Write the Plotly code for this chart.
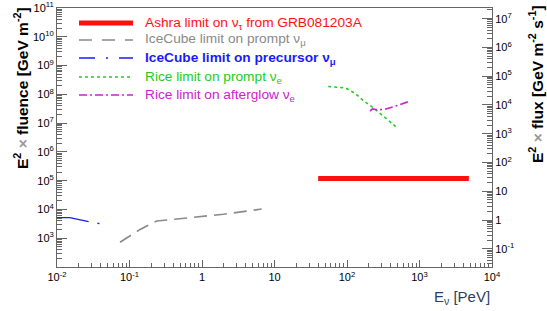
import plotly.graph_objects as go

# ---- data ----
ashra_E = [40, 4800]
ashra_F = [1.2e5, 1.2e5]

icp_E = [0.074, 0.14, 0.237, 0.68, 1.97, 6.65]
icp_F = [724, 2.02e3, 3.96e3, 5.2e3, 6.8e3, 1.03e4]

icpre_E = [0.01, 0.015, 0.0285, 0.039]
icpre_F = [5.2e3, 5.2e3, 3.7e3, 3.2e3]

rice_p_E = [55, 96, 129, 173, 231, 301, 404, 470]
rice_p_F = [1.87e8, 1.66e8, 1.08e8, 5.7e7, 3.4e7, 2.0e7, 1.05e7, 7.6e6]

rice_a_E = [207, 225, 260, 330, 450, 740]
rice_a_F = [2.6e7, 3.1e7, 2.9e7, 3.0e7, 3.8e7, 5.8e7]

x_tickvals = [1e-2, 1e-1, 1, 10, 1e2, 1e3, 1e4]
x_ticktext = ["10<sup>-2</sup>", "10<sup>-1</sup>", "1", "10", "10<sup>2</sup>", "10<sup>3</sup>", "10<sup>4</sup>"]
yl_tickvals = [1e3, 1e4, 1e5, 1e6, 1e7, 1e8, 1e9, 1e10, 1e11]
yl_ticktext = ["10<sup>%d</sup>" % k for k in range(3, 12)]
yr_tickvals = [1e-1, 1, 10, 1e2, 1e3, 1e4, 1e5, 1e6, 1e7]
yr_ticktext = ["10<sup>-1</sup>", "1", "10", "10<sup>2</sup>", "10<sup>3</sup>",
               "10<sup>4</sup>", "10<sup>5</sup>", "10<sup>6</sup>", "10<sup>7</sup>"]

legend_labels = [
    "Ashra limit on ν<sub>τ</sub> from GRB081203A",
    "IceCube limit on prompt ν<sub>μ</sub>",
    "<b>IceCube limit on precursor ν<sub>μ</sub></b>",
    "Rice limit on prompt ν<sub>e</sub>",
    "Rice limit on afterglow ν<sub>e</sub>",
]

# ---- styles ----
RED = "#ff1010"
GREY = "#8a8a8a"
BLUE = "#1a1aff"
GREEN = "#22cc22"
MAG = "#cc22cc"
styles = [
    dict(color=RED, width=5, dash="solid"),
    dict(color=GREY, width=1.6, dash="13px,7px"),
    dict(color=BLUE, width=1.4, dash="32px,9px,2px,9px"),
    dict(color=GREEN, width=1.6, dash="3px,3px"),
    dict(color=MAG, width=1.6, dash="8px,3px,2px,3px"),
]
legend_styles = [
    dict(color=RED, width=5, dash="solid"),
    dict(color=GREY, width=1.6, dash="13px,10px"),
    dict(color=BLUE, width=1.4, dash="16px,11px,2px,11px"),
    dict(color=GREEN, width=1.6, dash="3px,3px"),
    dict(color=MAG, width=1.6, dash="8px,3px,2px,3px"),
]

W, H = 547, 311
ML, MR, MT, MB = 57, 55, 8, 44
PH = H - MT - MB
PW = W - ML - MR

fig = go.Figure()
series = [(ashra_E, ashra_F), (icp_E, icp_F), (icpre_E, icpre_F),
          (rice_p_E, rice_p_F), (rice_a_E, rice_a_F)]
for (xe, yf), st in zip(series, styles):
    fig.add_trace(go.Scatter(x=xe, y=yf, mode="lines", line=st,
                             showlegend=False, hoverinfo="skip"))

# invisible trace to attach right axis
fig.add_trace(go.Scatter(x=[1], y=[1], yaxis="y2", mode="markers",
                         marker=dict(opacity=0), showlegend=False, hoverinfo="skip"))

# manual legend
leg_rows_px = [23, 40, 58, 77, 95]
shapes = []
annotations = []
for py, lab, st in zip(leg_rows_px, legend_labels, legend_styles):
    yp = 1 - (py - MT) / PH
    x0 = (79 - ML) / PW
    x1 = (133 - ML) / PW
    shapes.append(dict(type="line", xref="paper", yref="paper", x0=x0, x1=x1,
                       y0=yp, y1=yp, line=st))
    annotations.append(dict(xref="paper", yref="paper", x=(143 - ML) / PW, y=yp,
                            text=lab, showarrow=False, xanchor="left", yanchor="middle",
                            font=dict(color=st["color"], size=13.7,
                                      family="Liberation Sans, Arial")))

# axis titles
TITLE_FONT = dict(family="Liberation Sans, Arial", size=15.5, color="black")
annotations.append(dict(xref="paper", yref="paper", x=-(ML - 21) / PW, y=1 - (88 - MT) / PH,
                        text="<b>E<sup>2</sup> <span style='color:#999'>×</span> fluence [GeV m<sup>-2</sup>]</b>",
                        textangle=-90, showarrow=False, xanchor="center", yanchor="middle",
                        font=TITLE_FONT))
annotations.append(dict(xref="paper", yref="paper", x=1 + 44 / PW, y=1 - (84 - MT) / PH,
                        text="<b>E<sup>2</sup> <span style='color:#999'>×</span> flux [GeV m<sup>-2</sup> s<sup>-1</sup>]</b>",
                        textangle=-90, showarrow=False, xanchor="center", yanchor="middle",
                        font=TITLE_FONT))
annotations.append(dict(xref="paper", yref="paper", x=1, y=-(297 - MT - PH) / PH,
                        text="E<sub>ν</sub> [PeV]", showarrow=False, xanchor="right",
                        yanchor="middle", font=dict(family="Liberation Sans, Arial", size=15)))

AX = "#666666"
TICKF = dict(family="Liberation Sans, Arial", size=11, color="black")
fig.update_layout(
    width=W, height=H,
    margin=dict(l=ML, r=MR, t=MT, b=MB, autoexpand=False),
    paper_bgcolor="white", plot_bgcolor="white",
    shapes=shapes, annotations=annotations,
    xaxis=dict(type="log", range=[-2, 4], showline=True, linecolor=AX, linewidth=1,
               mirror=True, showgrid=False, zeroline=False, automargin=False,
               ticks="inside", ticklen=7, tickcolor=AX,
               tickmode="array", tickvals=x_tickvals, ticktext=x_ticktext,
               tickfont=TICKF,
               minor=dict(ticks="inside", ticklen=4, tickcolor=AX, dtick="D1", showgrid=False)),
    yaxis=dict(type="log", range=[2, 11], showline=True, linecolor=AX, linewidth=1,
               showgrid=False, zeroline=False, automargin=False,
               ticks="inside", ticklen=10, tickcolor=AX,
               tickmode="array", tickvals=yl_tickvals, ticktext=yl_ticktext,
               tickfont=TICKF,
               minor=dict(ticks="inside", ticklen=5, tickcolor=AX, dtick="D1", showgrid=False)),
    yaxis2=dict(type="log", range=[2 - 3.63, 11 - 3.63], overlaying="y", side="right",
                showline=True, linecolor=AX, linewidth=1, automargin=False,
                showgrid=False, zeroline=False,
                ticks="inside", ticklen=10, tickcolor=AX,
                tickmode="array", tickvals=yr_tickvals, ticktext=yr_ticktext,
                tickfont=TICKF,
                minor=dict(ticks="inside", ticklen=5, tickcolor=AX, dtick="D1", showgrid=False)),
)

fig.write_html("out.html", config={"displayModeBar": False},
               post_script="document.body.style.margin='0';document.body.style.overflow='hidden';")
